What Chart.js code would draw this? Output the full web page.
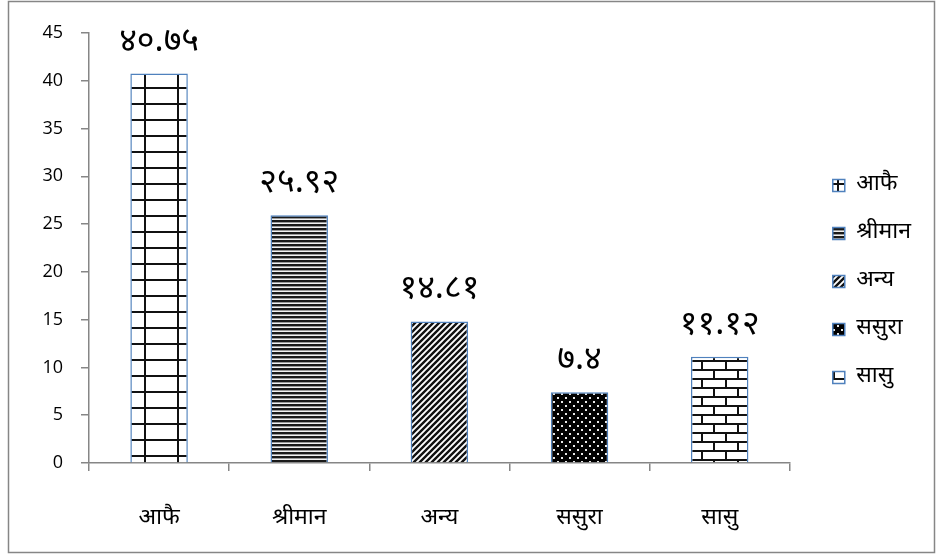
<!DOCTYPE html>
<html>
<head>
<meta charset="utf-8">
<script src="https://cdn.jsdelivr.net/npm/chart.js@4/dist/chart.umd.min.js"></script>
<style>
html,body{margin:0;padding:0;background:#fff;}
#wrap{width:941px;height:556px;}
</style>
</head>
<body>
<div id="wrap"><canvas id="c" width="941" height="556"></canvas></div>
<script>
const categories = ['आफै', 'श्रीमान', 'अन्य', 'ससुरा', 'सासु'];
const values = [40.75, 25.92, 14.81, 7.4, 11.12];
const yTicks = { min: 0, max: 45, step: 5 };

const DEVA_FONT = "'Noto Sans Devanagari','Lohit Devanagari','Mangal','Noto Serif Devanagari','Noto Sans',sans-serif";
const NUM_FONT = "'Open Sans','Noto Sans',sans-serif";

function toDeva(v) {
  const d = '०१२३४५६७८९';
  return String(v).replace(/[0-9]/g, ch => d[+ch]);
}

function tile(w, h, draw) {
  const c = document.createElement('canvas');
  c.width = w; c.height = h;
  const x = c.getContext('2d');
  draw(x, w, h);
  return document.getElementById('c').getContext('2d').createPattern(c, 'repeat');
}
const patterns = [
  // grid
  tile(33, 16, (x, w, h) => {
    x.fillStyle = '#fff'; x.fillRect(0, 0, w, h);
    x.fillStyle = '#111';
    x.fillRect(12, 0, 2, h);
    x.fillRect(0, 7, w, 2);
  }),
  // horizontal lines
  tile(4, 4, (x, w, h) => {
    x.fillStyle = '#f2f2f2'; x.fillRect(0, 0, w, h);
    x.fillStyle = '#1a1a1a'; x.fillRect(0, 0, w, 2);
    x.fillStyle = '#9a9a9a'; x.fillRect(0, 2, w, 1);
  }),
  // diagonal
  tile(6, 6, (x, w, h) => {
    x.fillStyle = '#fff'; x.fillRect(0, 0, w, h);
    x.strokeStyle = '#111'; x.lineWidth = 2.4;
    x.beginPath();
    x.moveTo(-1, 7); x.lineTo(7, -1);
    x.moveTo(-4, 4); x.lineTo(4, -4);
    x.moveTo(2, 10); x.lineTo(10, 2);
    x.stroke();
  }),
  // dots
  tile(8, 8, (x, w, h) => {
    x.fillStyle = '#000'; x.fillRect(0, 0, w, h);
    x.fillStyle = '#e8e8e8';
    x.fillRect(1, 1, 2, 2);
    x.fillRect(5, 5, 2, 2);
  }),
  // bricks
  tile(24, 18, (x, w, h) => {
    x.fillStyle = '#fff'; x.fillRect(0, 0, w, h);
    x.fillStyle = '#111';
    x.fillRect(0, 0, w, 2);
    x.fillRect(0, 9, w, 2);
    x.fillRect(5, 0, 2, 9);
    x.fillRect(17, 9, 2, 9);
  })
];

const frame = {
  id: 'frame',
  beforeDraw(chart) {
    const ctx = chart.ctx;
    ctx.save();
    ctx.fillStyle = '#fff';
    ctx.fillRect(0, 0, chart.width, chart.height);
    ctx.strokeStyle = '#868686';
    ctx.lineWidth = 1.5;
    ctx.strokeRect(8.5, 1.5, 926, 551);
    ctx.restore();
  }
};

const legendShift = {
  id: 'legendShift',
  afterLayout(chart) {
    if (chart.legend) { chart.legend.left += 18; chart.legend.right += 18; }
  }
};

const barLabels = {
  id: 'barLabels',
  afterDatasetsDraw(chart) {
    const ctx = chart.ctx;
    const meta = chart.getDatasetMeta(0);
    ctx.save();
    ctx.fillStyle = '#000';
    ctx.font = '34px ' + DEVA_FONT;
    ctx.textAlign = 'center';
    ctx.textBaseline = 'alphabetic';
    meta.data.forEach((el, i) => {
      ctx.fillText(toDeva(values[i]), el.x, el.y - 23);
    });
    ctx.restore();
  }
};

new Chart(document.getElementById('c'), {
  type: 'bar',
  data: {
    labels: categories,
    datasets: [{
      data: values,
      backgroundColor: patterns,
      borderColor: '#4F81BD',
      borderWidth: 1.5,
      categoryPercentage: 1,
      barPercentage: 0.41
    }]
  },
  options: {
    responsive: false,
    animation: false,
    devicePixelRatio: 1,
    layout: { padding: { left: 0, top: 33, right: 38, bottom: 0 } },
    plugins: {
      tooltip: { enabled: false },
      legend: {
        position: 'right',
        align: 'start',
        title: { display: true, text: ' ', padding: 0, font: { size: 10, lineHeight: '116px' } },
        labels: {
          boxWidth: 12,
          boxHeight: 12,
          padding: 25,
          color: '#000',
          font: { size: 23, family: DEVA_FONT },
          generateLabels: () => categories.map((c, i) => ({
            text: c, fillStyle: patterns[i], strokeStyle: '#4F81BD', lineWidth: 1.5,
            hidden: false, index: i, datasetIndex: 0, fontColor: '#000'
          }))
        }
      }
    },
    scales: {
      x: {
        offset: true,
        grid: { offset: true, drawOnChartArea: false, tickLength: 8, color: '#868686', lineWidth: 1.5 },
        border: { color: '#868686', width: 1.5 },
        ticks: { color: '#000', padding: 35, font: { size: 23, family: DEVA_FONT } },
        afterFit(s) { s.height = 93; }
      },
      y: {
        min: yTicks.min, max: yTicks.max,
        grid: { drawOnChartArea: false, tickLength: 8, color: '#868686', lineWidth: 1.5 },
        border: { color: '#868686', width: 1.5 },
        ticks: { stepSize: yTicks.step, color: '#000', padding: 18, font: { size: 18, family: NUM_FONT } },
        afterFit(s) { s.width = 89; }
      }
    }
  },
  plugins: [frame, legendShift, barLabels]
});
</script>
</body>
</html>
